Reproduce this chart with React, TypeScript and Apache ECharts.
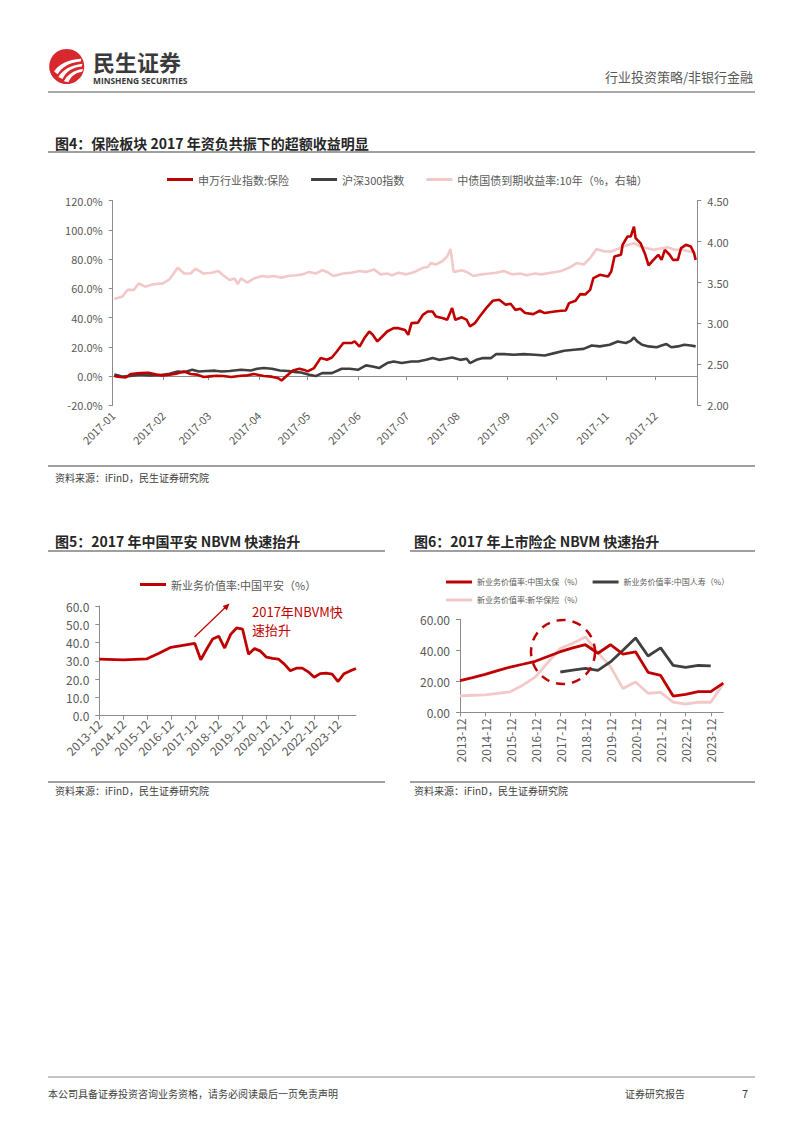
import React, { useEffect, useRef } from 'react';
import * as echarts from 'echarts';

const FONT = '"Noto Sans CJK SC", "Noto Sans", sans-serif';
const RED = '#C00000';
const DARK = '#404040';
const PINK = '#F2C8C8';
const LABEL = '#595959';
const AXIS = '#8C8C8C';

// ---------- 图4 data (2017, calendar dates) ----------
const monthStarts = ['01-01', '02-01', '03-01', '04-01', '05-01', '06-01', '07-01', '08-01', '09-01', '10-01', '11-01', '12-01'];

const insDates = [
  '01-02', '01-04', '01-09', '01-12', '01-18', '01-23', '01-28',
  '02-01', '02-05', '02-09', '02-14', '02-18', '02-22', '02-26',
  '03-02', '03-06', '03-10', '03-15', '03-21', '03-25', '03-29',
  '04-04', '04-09', '04-13', '04-15', '04-18', '04-22', '04-26', '04-29',
  '05-01', '05-05', '05-09', '05-13', '05-16', '05-19', '05-23', '05-28', '05-30',
  '06-02', '06-05', '06-08', '06-10', '06-13', '06-16', '06-19', '06-23', '06-26', '06-30',
  '07-02', '07-04', '07-08', '07-11', '07-14', '07-17', '07-19', '07-23', '07-26', '07-29', '07-31',
  '08-04', '08-07', '08-09', '08-12', '08-15', '08-19', '08-23', '08-27', '08-31',
  '09-03', '09-06', '09-09', '09-12', '09-17', '09-21', '09-24', '09-29',
  '10-04', '10-07', '10-09', '10-13', '10-16', '10-19', '10-22', '10-24', '10-28',
  '11-02', '11-04', '11-06', '11-10', '11-11', '11-14', '11-16', '11-18', '11-19', '11-22', '11-25', '11-27', '11-30',
  '12-03', '12-05', '12-07', '12-10', '12-12', '12-15', '12-17', '12-20', '12-23', '12-25', '12-26',
];
const insValues = [
  0, -0.5, -1.0, 1.4, 2.0, 2.3, 1.0,
  0.5, 1.0, 1.6, 3.1, 1.4, 1.0, -0.6,
  -0.2, 0.2, 0, -0.6, 0.2, 0.5, 1.4,
  0, -0.4, -1.5, -3.0, 0, 3.8, 5.0, 4.2,
  3.2, 5.5, 12.3, 11.2, 12.7, 16.8, 22.6, 22.6, 23.7,
  20.2, 26.0, 30.5, 28.5, 23.7, 27.1, 30.5, 32.8, 32.8, 31.5,
  28.2, 36.2, 36.6, 41.9, 44.2, 44.2, 40.8, 39.7, 38.5, 46.5, 38.5,
  40.2, 38.5, 33.9, 36.2, 40.8, 46.5, 51.5, 52.2, 48.8,
  49.5, 45.3, 46.0, 43.1, 42.4, 44.7, 43.1, 44.0,
  44.7, 44.9, 49.9, 51.5, 56.1, 55.8, 59.0, 67.0, 69.3,
  68.1, 71.5, 81.8, 83.0, 89.8, 95.5, 95.5, 102.3, 94.4, 91.0, 83.0, 75.7, 79.5,
  83.0, 79.5, 86.4, 83.0, 79.5, 79.5, 87.6, 89.8, 88.7, 84.1, 79.5,
];

const hsDates = [
  '01-02', '01-04', '01-07', '01-12', '01-18', '01-24', '01-31',
  '02-05', '02-10', '02-14', '02-19', '02-23', '02-28',
  '03-05', '03-09', '03-14', '03-21', '03-27', '03-31',
  '04-04', '04-09', '04-14', '04-19', '04-24', '04-27',
  '05-02', '05-06', '05-10', '05-16', '05-22', '05-27',
  '06-01', '06-06', '06-10', '06-14', '06-19', '06-23', '06-28',
  '07-04', '07-08', '07-13', '07-17', '07-21', '07-25', '07-29',
  '08-03', '08-07', '08-09', '08-13', '08-17', '08-22', '08-25', '08-30',
  '09-05', '09-11', '09-18', '09-24', '09-30',
  '10-06', '10-12', '10-18', '10-23', '10-28',
  '11-03', '11-08', '11-13', '11-16', '11-18', '11-20', '11-23', '11-27',
  '12-02', '12-05', '12-08', '12-11', '12-15', '12-19', '12-23', '12-26',
];
const hsValues = [
  1.0, 0.5, -0.4, 0, 1.0, 0.5, 0.7,
  1.6, 3.1, 2.7, 4.3, 3.1, 3.5,
  3.7, 3.1, 3.5, 4.3, 3.8, 5.0,
  5.5, 5.0, 3.8, 3.5, 2.7, 2.4,
  0.9, 0, 2.0, 2.0, 5.0, 5.0,
  4.3, 7.3, 6.6, 5.5, 8.9, 10.0, 8.9,
  10.0, 10.0, 11.1, 12.3, 11.1, 11.8, 12.7,
  11.1, 11.8, 8.9, 11.1, 12.3, 12.3, 15.0, 15.0,
  14.6, 15.0, 14.6, 14.1, 15.7,
  17.3, 18.0, 18.6, 20.9, 20.3,
  21.4, 23.7, 22.6, 24.1, 26.4, 23.7, 21.4, 20.3,
  19.7, 20.9, 21.9, 19.7, 20.3, 21.4, 20.9, 20.3,
];

const bondDates = [
  '01-02', '01-07', '01-10', '01-14', '01-17', '01-21', '01-26',
  '02-01', '02-05', '02-10', '02-14', '02-18', '02-21', '02-26',
  '03-03', '03-07', '03-10', '03-14', '03-17', '03-19', '03-21', '03-25', '03-29',
  '04-03', '04-07', '04-10', '04-15', '04-19', '04-24', '04-28',
  '05-02', '05-06', '05-10', '05-13', '05-17', '05-23', '05-28',
  '06-02', '06-06', '06-11', '06-15', '06-19', '06-22', '06-26',
  '07-01', '07-06', '07-11', '07-14', '07-16', '07-19', '07-23', '07-26', '07-28', '07-30',
  '08-04', '08-07', '08-11', '08-16', '08-21', '08-25', '08-30',
  '09-04', '09-09', '09-13', '09-18', '09-22', '09-28',
  '10-04', '10-09', '10-14', '10-18', '10-22', '10-26', '10-31',
  '11-04', '11-09', '11-14', '11-18', '11-22', '11-26', '11-30',
  '12-05', '12-09', '12-13', '12-18', '12-22', '12-25',
];
const bondValues = [
  3.30, 3.33, 3.41, 3.41, 3.49, 3.45, 3.48,
  3.49, 3.54, 3.68, 3.61, 3.61, 3.67, 3.61,
  3.62, 3.64, 3.59, 3.53, 3.55, 3.48, 3.55, 3.50, 3.55,
  3.58, 3.57, 3.58, 3.56, 3.58, 3.59, 3.60,
  3.63, 3.61, 3.65, 3.63, 3.58, 3.61, 3.62,
  3.64, 3.63, 3.66, 3.60, 3.61, 3.59, 3.62,
  3.60, 3.63, 3.68, 3.69, 3.74, 3.72, 3.76, 3.82, 3.91, 3.63,
  3.65, 3.63, 3.58, 3.60, 3.61, 3.62, 3.64,
  3.60, 3.61, 3.59, 3.61, 3.60, 3.62,
  3.64, 3.68, 3.74, 3.72, 3.80, 3.91, 3.88,
  3.88, 3.92, 3.96, 3.98, 3.94, 3.92, 3.90,
  3.92, 3.93, 3.90, 3.90, 3.88, 3.87,
];

// ---------- 图5 data (quarterly) ----------
const paCategories = [
  '2013-12', '2014-03', '2014-06', '2014-09', '2014-12', '2015-03', '2015-06', '2015-09', '2015-12',
  '2016-03', '2016-06', '2016-09', '2016-12', '2017-03', '2017-06', '2017-09', '2017-12',
  '2018-03', '2018-06', '2018-09', '2018-12', '2019-03', '2019-06', '2019-09', '2019-12',
  '2020-03', '2020-06', '2020-09', '2020-12', '2021-03', '2021-06', '2021-09', '2021-12',
  '2022-03', '2022-06', '2022-09', '2022-12', '2023-03', '2023-06', '2023-09', '2023-12',
  '2024-03', '2024-06', '2024-09',
];
const paValues = [
  30.9, null, null, null, 30.5, null, null, null, 31.1,
  null, 34.2, null, 37.4, null, 38.5, null, 39.5,
  30.6, 36.5, 42.0, 43.5, 37.0, 44.5, 48.0, 47.3,
  33.6, 36.7, 35.3, 32.0, 31.4, 31.0, 28.2, 24.6,
  26.0, 26.0, 24.0, 21.0, 23.0, 23.3, 22.8, 18.7,
  23.0, 24.5, 25.8,
];

// ---------- 图6 data (semi-annual) ----------
const listedCategories = [
  '2013-12', '2014-06', '2014-12', '2015-06', '2015-12', '2016-06', '2016-12', '2017-06', '2017-12',
  '2018-06', '2018-12', '2019-06', '2019-12', '2020-06', '2020-12', '2021-06', '2021-12',
  '2022-06', '2022-12', '2023-06', '2023-12', '2024-06',
];
const cpicValues = [20.4, 22.4, 24.5, 26.9, 29.2, 31.0, 32.9, 36.0, 39.1, 41.6, 43.6, 38.1, 43.6, 37.6, 39.0, 25.8, 23.8, 10.5, 11.6, 13.3, 13.3, 18.8];
const chinaLifeValues = [null, null, null, null, null, null, null, null, 26.0, 27.2, 28.3, 27.1, 32.5, 40.0, 48.0, 36.3, 41.6, 30.3, 29.0, 30.2, 29.9, null];
const nciValues = [10.6, 11.0, 11.3, 12.2, 13.2, 17.5, 22.7, 32.0, 41.2, 44.6, 48.6, 38.5, 29.5, 15.3, 19.6, 12.3, 12.8, 6.6, 5.3, 6.5, 6.5, 18.5];

const S_INS = '申万行业指数:保险';
const S_HS = '沪深300指数';
const S_BOND = '中债国债到期收益率:10年（%，右轴）';
const S_PA = '新业务价值率:中国平安（%）';
const S_CPIC = '新业务价值率:中国太保（%）';
const S_CL = '新业务价值率:中国人寿（%）';
const S_NCI = '新业务价值率:新华保险（%）';

const LOGO_D =
  'M14,64 C28,44 52,30 92,28 L90,36 C60,38 38,50 24,72 Z ' +
  'M26,80 C38,60 60,46 95,42 L93,50 C66,53 48,64 38,86 Z ' +
  'M42,92 C52,74 68,60 97,57 L94,65 C74,68 62,78 55,95 Z';
echarts.graphic.registerShape('msLogo', echarts.graphic.extendPath(LOGO_D, {}));

const d17 = (s: string) => new Date(`2017-${s}T00:00:00`).getTime();
const pairs = (dates: string[], vals: number[]) => dates.map((d, i) => [d17(d), vals[i]]);

const text = (x: number, y: number, t: string, size: number, extra: any = {}) => ({
  type: 'text',
  x,
  y,
  silent: true,
  style: {
    text: t,
    fontSize: size,
    fontFamily: extra.family || FONT,
    fill: extra.fill || '#333',
    fontWeight: extra.fontWeight || 'normal',
    textAlign: extra.align || 'left',
    align: extra.align || 'left',
    textVerticalAlign: 'middle',
    verticalAlign: 'middle',
  },
});
const hline = (x1: number, x2: number, y: number, color: string, w: number) => ({
  type: 'line',
  silent: true,
  shape: { x1, y1: y, x2, y2: y },
  style: { stroke: color, lineWidth: w },
});

export default function App() {
  const ref = useRef<HTMLDivElement>(null);
  useEffect(() => {
    if (!ref.current) return;
    const chart = echarts.init(ref.current, undefined, { renderer: 'svg' });
    const monthTs = monthStarts.map(d17);
    const fmtMonth = (v: number) => {
      const d = new Date(v);
      return `${d.getFullYear()}-${String(d.getMonth() + 1).padStart(2, '0')}`;
    };
    const xMin = d17('01-01');
    const xMax = d17('12-27');
    const axisLabel = { color: LABEL, fontFamily: FONT };
    const legendBase = { icon: 'rect', itemWidth: 26, itemHeight: 3 };

    const option: any = {
      animation: false,
      backgroundColor: '#fff',
      textStyle: { fontFamily: FONT },
      grid: [
        { left: 112.7, top: 200.7, width: 584.6, height: 204.6 },
        { left: 99.3, top: 606, width: 256.7, height: 109.7 },
        { left: 460, top: 619.3, width: 263.3, height: 93 },
      ],
      legend: [
        {
          ...legendBase,
          data: [S_INS, S_HS, S_BOND],
          left: 162,
          top: 169,
          itemGap: 22,
          textStyle: { fontSize: 11, color: LABEL, fontFamily: FONT },
        },
        {
          ...legendBase,
          data: [S_PA],
          left: 135,
          top: 574,
          textStyle: { fontSize: 11, color: LABEL, fontFamily: FONT },
        },
        {
          ...legendBase,
          data: [S_CPIC, S_CL],
          left: 441,
          top: 573,
          itemGap: 10,
          textStyle: { fontSize: 8, color: LABEL, fontFamily: FONT },
        },
        {
          ...legendBase,
          data: [S_NCI],
          left: 441,
          top: 591,
          textStyle: { fontSize: 8, color: LABEL, fontFamily: FONT },
        },
      ],
      xAxis: [
        {
          type: 'value',
          gridIndex: 0,
          min: xMin,
          max: xMax,
          position: 'bottom',
          axisLine: { show: false, onZero: false },
          axisTick: { show: false },
          splitLine: { show: false },
          axisLabel: {
            ...axisLabel,
            fontSize: 11,
            rotate: 45,
            margin: 8,
            customValues: monthTs,
            formatter: fmtMonth,
            hideOverlap: false,
          },
        },
        {
          type: 'value',
          gridIndex: 0,
          min: xMin,
          max: xMax,
          position: 'bottom',
          axisLine: { show: true, onZero: true, onZeroAxisIndex: 0, lineStyle: { color: AXIS, width: 1 } },
          axisTick: { show: true, length: 4, customValues: monthTs, lineStyle: { color: AXIS } },
          axisLabel: { show: false },
          splitLine: { show: false },
        },
        {
          type: 'category',
          gridIndex: 1,
          data: paCategories,
          boundaryGap: false,
          axisLine: { lineStyle: { color: AXIS } },
          axisTick: { length: 4, interval: (i: number) => i % 4 === 0, lineStyle: { color: AXIS } },
          axisLabel: { ...axisLabel, fontSize: 12, rotate: 45, margin: 6, interval: (i: number) => i % 4 === 0 },
        },
        {
          type: 'category',
          gridIndex: 2,
          data: listedCategories,
          boundaryGap: false,
          axisLine: { lineStyle: { color: AXIS } },
          axisTick: { length: 4, interval: (i: number) => i % 2 === 0, lineStyle: { color: AXIS } },
          axisLabel: { ...axisLabel, fontSize: 12, rotate: 90, margin: 6, interval: (i: number) => i % 2 === 0 },
        },
      ],
      yAxis: [
        {
          type: 'value',
          gridIndex: 0,
          min: -20,
          max: 120,
          interval: 20,
          axisLine: { show: true, lineStyle: { color: AXIS } },
          axisTick: { show: true, length: 4, lineStyle: { color: AXIS } },
          splitLine: { show: false },
          axisLabel: { ...axisLabel, fontSize: 11, margin: 10, formatter: (v: number) => v.toFixed(1) + '%' },
        },
        {
          type: 'value',
          gridIndex: 0,
          position: 'right',
          min: 2,
          max: 4.5,
          interval: 0.5,
          axisLine: { show: true, lineStyle: { color: AXIS } },
          axisTick: { show: true, length: 4, lineStyle: { color: AXIS } },
          splitLine: { show: false },
          axisLabel: { ...axisLabel, fontSize: 11, margin: 10, formatter: (v: number) => v.toFixed(2) },
        },
        {
          type: 'value',
          gridIndex: 1,
          min: 0,
          max: 60,
          interval: 10,
          axisLine: { show: true, lineStyle: { color: AXIS } },
          axisTick: { show: true, length: 4, lineStyle: { color: AXIS } },
          splitLine: { show: false },
          axisLabel: { ...axisLabel, fontSize: 12, margin: 10, formatter: (v: number) => v.toFixed(1) },
        },
        {
          type: 'value',
          gridIndex: 2,
          min: 0,
          max: 60,
          interval: 20,
          axisLine: { show: true, lineStyle: { color: AXIS } },
          axisTick: { show: true, length: 4, lineStyle: { color: AXIS } },
          splitLine: { show: false },
          axisLabel: { ...axisLabel, fontSize: 12, margin: 10, formatter: (v: number) => v.toFixed(2) },
        },
      ],
      series: [
        {
          name: S_BOND, type: 'line', xAxisIndex: 0, yAxisIndex: 1, symbol: 'none',
          data: pairs(bondDates, bondValues), color: PINK, lineStyle: { width: 2.6, color: PINK },
        },
        {
          name: S_HS, type: 'line', xAxisIndex: 0, yAxisIndex: 0, symbol: 'none',
          data: pairs(hsDates, hsValues), color: DARK, lineStyle: { width: 2.6, color: DARK },
        },
        {
          name: S_INS, type: 'line', xAxisIndex: 0, yAxisIndex: 0, symbol: 'none',
          data: pairs(insDates, insValues), color: RED, lineStyle: { width: 2.6, color: RED },
        },
        {
          name: S_PA, type: 'line', xAxisIndex: 2, yAxisIndex: 2, symbol: 'none', connectNulls: true,
          data: paValues, color: RED, lineStyle: { width: 2.8, color: RED },
        },
        {
          name: S_NCI, type: 'line', xAxisIndex: 3, yAxisIndex: 3, symbol: 'none',
          data: nciValues, color: PINK, lineStyle: { width: 2.8, color: PINK },
        },
        {
          name: S_CL, type: 'line', xAxisIndex: 3, yAxisIndex: 3, symbol: 'none',
          data: chinaLifeValues, color: DARK, lineStyle: { width: 2.8, color: DARK },
        },
        {
          name: S_CPIC, type: 'line', xAxisIndex: 3, yAxisIndex: 3, symbol: 'none',
          data: cpicValues, color: RED, lineStyle: { width: 2.8, color: RED },
        },
      ],
      graphic: [
        // header
        { type: 'circle', silent: true, shape: { cx: 66.7, cy: 66.5, r: 17.5 }, style: { fill: '#D9272E' } },
        { type: 'msLogo', silent: true, x: 49.2, y: 49, scaleX: 0.35, scaleY: 0.35, style: { fill: '#fff' } },
        text(93, 61, '民生证券', 22, { fontWeight: 'bold', fill: '#3A3A3A' }),
        text(93, 80.5, 'MINSHENG SECURITIES', 8.4, { fontWeight: 'bold', fill: '#3A3A3A', family: '"Open Sans", "Noto Sans", sans-serif' }),
        text(753, 76, '行业投资策略/非银行金融', 13, { align: 'right', fill: LABEL }),
        hline(48, 755, 92, '#8C8C8C', 1.5),
        // chart 4
        text(55, 143, '图4：保险板块 2017 年资负共振下的超额收益明显', 14, { fontWeight: 'bold', fill: '#262626' }),
        hline(48, 755, 152, '#404040', 1.2),
        hline(48, 755, 466, '#404040', 1),
        text(55, 477, '资料来源：iFinD，民生证券研究院', 10, { fill: '#404040' }),
        // chart 5
        text(55, 541, '图5：2017 年中国平安 NBVM 快速抬升', 14, { fontWeight: 'bold', fill: '#262626' }),
        hline(48, 385, 551, '#404040', 1.2),
        hline(48, 385, 782, '#404040', 1),
        text(55, 790, '资料来源：iFinD，民生证券研究院', 10, { fill: '#404040' }),
        { type: 'line', silent: true, z: 100, shape: { x1: 194.5, y1: 637, x2: 225.5, y2: 607.3 }, style: { stroke: RED, lineWidth: 1.2 } },
        { type: 'polygon', silent: true, z: 100, shape: { points: [[229.5, 603.5], [226.9, 610.4], [222.6, 605.9]] }, style: { fill: RED } },
        text(252, 611, '2017年NBVM快', 13, { fill: RED }),
        text(252, 629, '速抬升', 13, { fill: RED }),
        // chart 6
        text(414, 541, '图6：2017 年上市险企 NBVM 快速抬升', 14, { fontWeight: 'bold', fill: '#262626' }),
        hline(410, 755, 551, '#404040', 1.2),
        hline(410, 755, 782, '#404040', 1),
        text(414, 790, '资料来源：iFinD，民生证券研究院', 10, { fill: '#404040' }),
        {
          type: 'circle', silent: true, z: 100, shape: { cx: 563, cy: 652, r: 32 },
          style: { fill: 'none', stroke: RED, lineWidth: 2.5, lineDash: [9, 7] },
        },
        // footer
        hline(48, 755, 1077, '#8C8C8C', 1.2),
        text(48, 1093, '本公司具备证券投资咨询业务资格，请务必阅读最后一页免责声明', 10, { fill: '#404040' }),
        text(625, 1093, '证券研究报告', 10, { fill: '#404040' }),
        text(742, 1093, '7', 11, { fill: '#404040' }),
      ],
    };
    chart.setOption(option);
    return () => chart.dispose();
  }, []);
  return (
    <div
      ref={ref}
      style={{ position: 'absolute', left: 0, top: 0, width: 802, height: 1133, background: '#fff' }}
    />
  );
}
